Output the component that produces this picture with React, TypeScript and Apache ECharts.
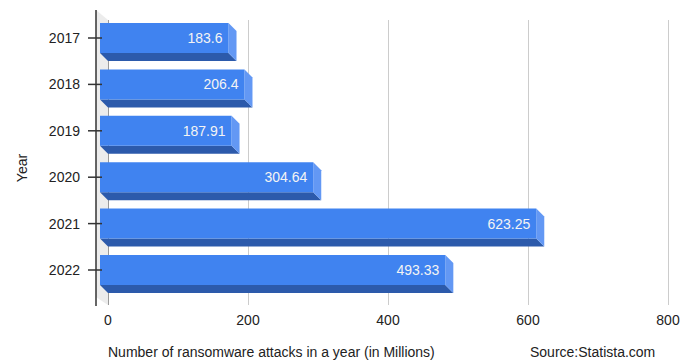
import React, { useEffect, useRef } from "react";
import * as echarts from "echarts";

const years = ["2017", "2018", "2019", "2020", "2021", "2022"];
const attacks = [183.6, 206.4, 187.91, 304.64, 623.25, 493.33];
const xTicks = [0, 200, 400, 600, 800];
const xTitle = "Number of ransomware attacks in a year (in Millions)";
const yTitle = "Year";
const source = "Source:Statista.com";

const FONT = "Arial, 'Liberation Sans', sans-serif";
const DEPTH = 8;

export default function App() {
  const ref = useRef<HTMLDivElement>(null);
  useEffect(() => {
    if (!ref.current) return;
    const chart = echarts.init(ref.current, undefined, { renderer: "svg" });
    const option: any = {
      animation: false,
      backgroundColor: "#ffffff",
      textStyle: { fontFamily: FONT },
      title: [
        {
          text: xTitle,
          left: 108,
          top: 345,
          padding: 0,
          textStyle: { fontSize: 14, fontWeight: "normal", color: "#222", fontFamily: FONT },
        },
        {
          text: source,
          left: 530,
          top: 345,
          padding: 0,
          textStyle: { fontSize: 14, fontWeight: "normal", color: "#222", fontFamily: FONT },
        },
      ],
      grid: [
        { left: 108, right: 26, top: 20, bottom: 56 },
        { left: 100, right: 34, top: 14.8, height: 278.4 },
      ],
      xAxis: [
        {
          gridIndex: 0,
          type: "value",
          min: xTicks[0],
          max: xTicks[xTicks.length - 1],
          interval: 200,
          axisLine: { show: false },
          axisTick: { show: false },
          axisLabel: { color: "#222", fontSize: 14, margin: 8, fontFamily: FONT },
          splitLine: { lineStyle: { color: ["#999", "#cccccc", "#cccccc", "#cccccc", "#cccccc"], width: 1 } },
        },
        {
          gridIndex: 1,
          type: "value",
          min: xTicks[0],
          max: xTicks[xTicks.length - 1],
          interval: 200,
          show: false,
        },
      ],
      yAxis: [
        {
          gridIndex: 0,
          type: "category",
          data: years,
          show: false,
        },
        {
          gridIndex: 1,
          type: "category",
          data: years,
          inverse: true,
          axisLine: { show: false },
          axisTick: { show: false },
          splitLine: { show: false },
          axisLabel: { color: "#222", fontSize: 14, margin: 20, fontFamily: FONT },
        },
      ],
      graphic: [
        {
          type: "polygon",
          z: 0,
          shape: { points: [[96, 10], [108, 20], [108, 305], [96, 297]] },
          style: { fill: "#ececec" },
        },
        {
          type: "line",
          z: 100,
          shape: { x1: 96, y1: 10, x2: 96, y2: 306 },
          style: { stroke: "#333", lineWidth: 1.5 },
        },
        {
          type: "text",
          z: 100,
          x: 22,
          y: 168,
          rotation: Math.PI / 2,
          style: {
            text: yTitle,
            fontSize: 14,
            fill: "#222",
            fontFamily: FONT,
            align: "center",
            verticalAlign: "middle",
          },
        },
      ],
      series: [
        {
          type: "custom",
          xAxisIndex: 1,
          yAxisIndex: 1,
          clip: false,
          z: 5,
          data: attacks.map((v, i) => [v, i]),
          encode: { x: 0, y: 1 },
          renderItem: (params: any, api: any) => {
            const v = api.value(0);
            const idx = api.value(1);
            const p0 = api.coord([0, idx]);
            const p1 = api.coord([v, idx]);
            const band = api.size([0, 1])[1];
            const h = band * 0.646;
            const x0 = p0[0];
            const x1 = p1[0];
            const yc = p1[1];
            const yt = yc - h / 2;
            const yb = yc + h / 2;
            const d = DEPTH;
            return {
              type: "group",
              children: [
                {
                  type: "polygon",
                  shape: { points: [[x0, yb], [x1, yb], [x1 + d, yb + d], [x0 + d, yb + d]] },
                  style: { fill: "#2c5aab" },
                },
                {
                  type: "polygon",
                  shape: { points: [[x1, yt], [x1 + d, yt + d], [x1 + d, yb + d], [x1, yb]] },
                  style: { fill: "#6398f4" },
                },
                {
                  type: "rect",
                  shape: { x: x0, y: yt, width: x1 - x0, height: h },
                  style: { fill: "#4083f0" },
                },
                {
                  type: "text",
                  style: {
                    text: String(attacks[idx]),
                    x: x1 - 6,
                    y: yc,
                    align: "right",
                    verticalAlign: "middle",
                    fill: "#f4f4f4",
                    fontSize: 14,
                    fontFamily: FONT,
                  },
                },
                {
                  type: "line",
                  shape: { x1: x0 - 12, y1: yc, x2: x0 + 2, y2: yc },
                  style: { stroke: "#333", lineWidth: 1.5 },
                },
              ],
            };
          },
        },
      ],
    };
    chart.setOption(option);
    return () => chart.dispose();
  }, []);
  return (
    <div
      ref={ref}
      style={{ position: "fixed", left: 0, top: 0, width: 694, height: 361 }}
    />
  );
}
